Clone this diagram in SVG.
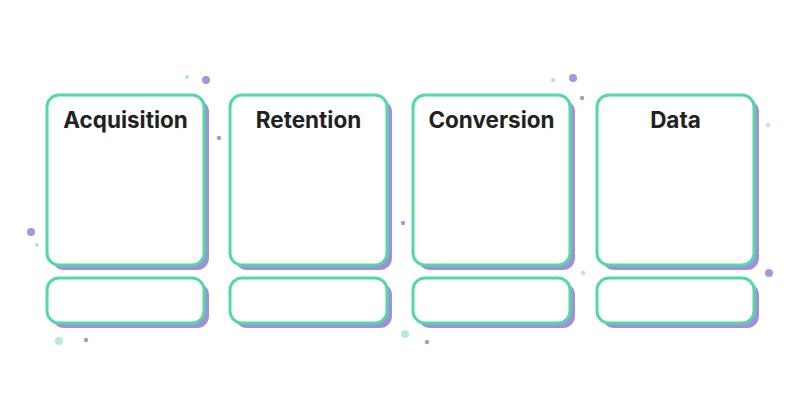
<svg xmlns="http://www.w3.org/2000/svg" width="800" height="420" viewBox="0 0 800 420">
<style>
.sh{fill:#9d90dc;}
.bx{fill:#ffffff;stroke:#55d9a2;stroke-width:3;}
.t{font-family:Inter,"Liberation Sans",sans-serif;font-weight:700;font-size:22.5px;fill:#222222;text-anchor:middle;}
.p{fill:#a398de;}
.m{fill:#b5ecd5;}
</style>
<rect width="800" height="420" fill="#ffffff"/>
<g id="decor">
<circle class="m" cx="187" cy="77" r="2.2"/>
<circle class="p" cx="206" cy="80" r="4"/>
<circle class="p" cx="219" cy="138" r="2.2"/>
<circle class="p" cx="31" cy="232" r="4"/>
<circle class="m" cx="37" cy="245" r="2.2"/>
<circle class="m" cx="59" cy="341" r="4"/>
<circle class="p" cx="86" cy="340" r="2.2"/>
<circle class="p" cx="403" cy="223" r="2.2"/>
<circle class="m" cx="553" cy="80" r="2.2"/>
<circle class="p" cx="573" cy="78" r="4"/>
<circle class="p" cx="582" cy="98" r="2.2"/>
<circle class="m" cx="768" cy="125" r="2.2"/>
<circle class="m" cx="583" cy="273" r="2.2"/>
<circle class="p" cx="769" cy="273" r="4"/>
<circle class="m" cx="405" cy="334" r="4"/>
<circle class="p" cx="427" cy="342" r="2.2"/>
</g>
<g id="acquisition">
<rect class="sh" x="52" y="100" width="157" height="170" rx="12"/>
<rect class="bx" x="47" y="95" width="157" height="170" rx="12"/>
<text class="t" x="125.5" y="127.5">Acquisition</text>
</g>
<g id="acquisition-foot">
<rect class="sh" x="52" y="283" width="157" height="45" rx="12"/>
<rect class="bx" x="47" y="278" width="157" height="45" rx="12"/>
</g>
<g id="retention">
<rect class="sh" x="235" y="100" width="157" height="170" rx="12"/>
<rect class="bx" x="230" y="95" width="157" height="170" rx="12"/>
<text class="t" x="308.5" y="127.5">Retention</text>
</g>
<g id="retention-foot">
<rect class="sh" x="235" y="283" width="157" height="45" rx="12"/>
<rect class="bx" x="230" y="278" width="157" height="45" rx="12"/>
</g>
<g id="conversion">
<rect class="sh" x="418" y="100" width="157" height="170" rx="12"/>
<rect class="bx" x="413" y="95" width="157" height="170" rx="12"/>
<text class="t" x="491.5" y="127.5">Conversion</text>
</g>
<g id="conversion-foot">
<rect class="sh" x="418" y="283" width="157" height="45" rx="12"/>
<rect class="bx" x="413" y="278" width="157" height="45" rx="12"/>
</g>
<g id="data">
<rect class="sh" x="602" y="100" width="157" height="170" rx="12"/>
<rect class="bx" x="597" y="95" width="157" height="170" rx="12"/>
<text class="t" x="675.5" y="127.5">Data</text>
</g>
<g id="data-foot">
<rect class="sh" x="602" y="283" width="157" height="45" rx="12"/>
<rect class="bx" x="597" y="278" width="157" height="45" rx="12"/>
</g>
<g id="connectors"></g>
</svg>
